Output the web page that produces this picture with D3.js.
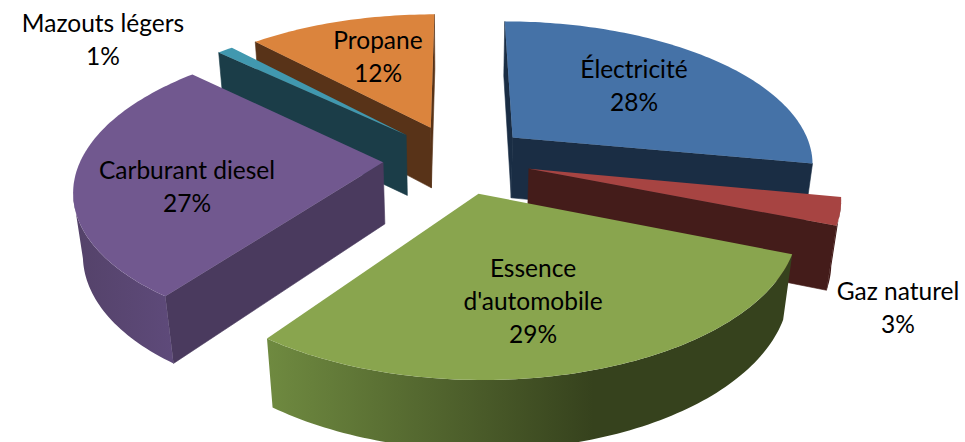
<!DOCTYPE html>
<html><head><meta charset="utf-8">
<style>html,body{margin:0;padding:0;background:#fff}svg{display:block}</style>
<script src="https://cdn.jsdelivr.net/npm/d3@7"></script></head><body>
<svg id="c" width="965" height="442"></svg>
<script>
const categories = ["Électricité","Gaz naturel","Essence d'automobile","Carburant diesel","Mazouts légers","Propane"];
const shares = [28,3,29,27,1,12];
const labelLines = [["Électricité","28%"],["Gaz naturel","3%"],["Essence","d'automobile","29%"],["Carburant diesel","27%"],["Mazouts légers","1%"],["Propane","12%"]];

const topColors  = ["#4572a7","#a74442","#89a54e","#71588f","#4198af","#db843d"];
const sideColors = ["#1a2d44","#441c1a","#36421d","#4a3a5e","#1b3d48","#583318"];
// outer wall gradient stops, left to right on screen
const wallStops = [
  [[0,"#1a2d44"],[1,"#1a2d44"]],
  [[0,"#441c1a"],[1,"#441c1a"]],
  [[0,"#6f8a40"],[0.62,"#36421d"],[1,"#36421d"]],
  [[0,"#544269"],[1,"#5e4a7a"]],
  [[0,"#1b3d48"],[1,"#1b3d48"]],
  [[0,"#583318"],[1,"#583318"]]
];

// layout
const P = {cx:457, cy:159, A:302, B:142, D:63, p:0.167, q:0.025, E:0.245};
const labelCenters = [[634,86],[898,308],[533,302],[187,187],[103,40],[378,57]];
const drawOrder = [5,4,0,1,3,2];
const lineGap = 33, fontSize = 24.5;

function project(u,v,bottom){
  const w = 1 - P.p*v + (bottom?P.q:0);
  return [P.cx + P.A*u/w, P.cy + (P.B*v + (bottom?P.D:0))/w];
}
const pie = d3.pie().sort(null).value(d=>d);
const arcs = pie(shares);
const svg = d3.select("#c");
const defs = svg.append("defs");
const line = d3.line();

function poly(pts,fill,stroke){
  svg.append("path").attr("d",line(pts)+"Z").attr("fill",fill)
    .attr("stroke",stroke||"none").attr("stroke-width",stroke?0.6:0);
}
drawOrder.forEach(i=>{
  const a = arcs[i], m=(a.startAngle+a.endAngle)/2;
  const ox=P.E*Math.sin(m), oy=-P.E*Math.cos(m);
  const n=Math.max(4,Math.ceil((a.endAngle-a.startAngle)/0.02));
  const thetas=d3.range(n+1).map(k=>a.startAngle+(a.endAngle-a.startAngle)*k/n);
  const pt=(t,b)=>project(ox+Math.sin(t),oy-Math.cos(t),b);
  const apexT=project(ox,oy,false), apexB=project(ox,oy,true);
  const side=sideColors[i];
  const s0=pt(a.startAngle,false), s1=pt(a.endAngle,false);
  if(s0[0]<apexT[0]) poly([apexT,s0,pt(a.startAngle,true),apexB],side,side);
  if(apexT[0]<s1[0]) poly([s1,apexT,apexB,pt(a.endAngle,true)],side,side);
  // outer wall: the part of the rim that faces the viewer
  const front=thetas.filter(t=>{
    const d=0.001; return pt(t+d,false)[0]<pt(t-d,false)[0];
  });
  if(front.length>1){
    const tops=front.map(t=>pt(t,false)), bots=front.map(t=>pt(t,true)).reverse();
    const xs=tops.concat(bots).map(d=>d[0]);
    const id="wall"+i;
    const g=defs.append("linearGradient").attr("id",id).attr("gradientUnits","userSpaceOnUse")
      .attr("x1",d3.min(xs)).attr("x2",d3.max(xs)).attr("y1",0).attr("y2",0);
    wallStops[i].forEach(s=>g.append("stop").attr("offset",s[0]).attr("stop-color",s[1]));
    poly(tops.concat(bots),`url(#${id})`);
  }
  poly([apexT,...thetas.map(t=>pt(t,false))],topColors[i]);
});
labelLines.forEach((ls,i)=>{
  const [x,y]=labelCenters[i];
  const t=svg.append("text").attr("text-anchor","middle").attr("font-family","Lato")
    .attr("font-size",fontSize).attr("fill","#000");
  ls.forEach((l,j)=>t.append("tspan").attr("x",x).attr("y",y+(j-(ls.length-1)/2)*lineGap+8).text(l));
});
</script></body></html>
